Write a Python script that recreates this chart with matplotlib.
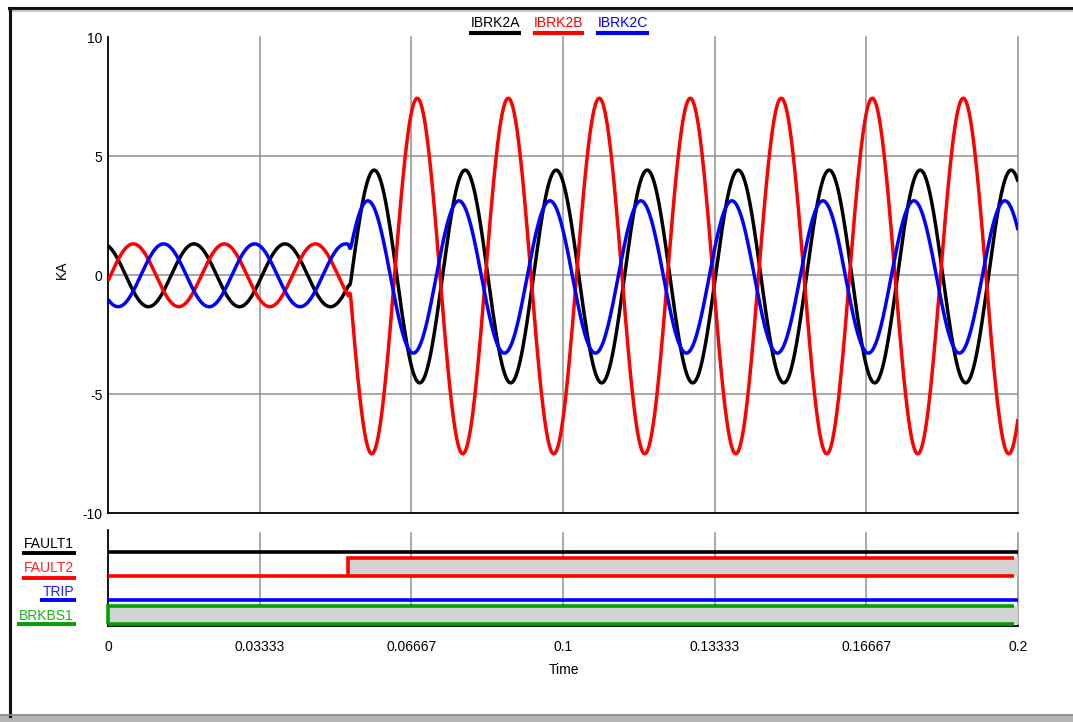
import numpy as np
import matplotlib
matplotlib.use('Agg')
import matplotlib.pyplot as plt
from matplotlib.lines import Line2D
from matplotlib.patches import Rectangle

# ---------------- data ----------------
freq_hz = 50.0
t_start, t_end = 0.0, 0.2
fault_time = 0.0528
blend_time = 0.0008

phase_names = ['IBRK2A', 'IBRK2B', 'IBRK2C']
phase_colors = ['#000000', '#ff0000', '#0000ff']
pre_amp = [1.32, 1.32, 1.32]            # kA, before fault
pre_angle_deg = [20.0, -100.0, 140.0]   # cos(wt + angle)
post_amp = [4.47, 7.47, 3.20]           # kA, after fault
post_angle_deg = [27.0, -143.5, 52.0]
post_offset = [-0.05, -0.03, -0.07]

y_ticks = [-10, -5, 0, 5, 10]
y_grid = [-5, 0, 5]
x_ticks = [0.0, 1 / 30, 2 / 30, 0.1, 4 / 30, 5 / 30, 0.2]
x_tick_labels = ['0', '0.03333', '0.06667', '0.1', '0.13333', '0.16667', '0.2']

digital_names = ['FAULT1', 'FAULT2', 'TRIP', 'BRKBS1']
digital_colors = ['#000000', '#ff0000', '#0000ff', '#00a000']
digital_label_colors = ['#000000', '#ff2020', '#2020ff', '#20b020']
digital_initial = [0, 0, 0, 1]
digital_switch = [None, fault_time, None, None]

# ---------------- figure ----------------
W, H = 1073, 722
fig = plt.figure(figsize=(W / 100, H / 100), dpi=100)
fig.patch.set_facecolor('white')
plt.rcParams['font.family'] = ['Liberation Sans', 'DejaVu Sans']


def fx(x):
    return x / W


def fy(y):
    return 1 - y / H


grid_color = '#8f8f8f'
grid_lw = 1.1

# ---- top axes ----
x0, x1 = 108, 1018
ax = fig.add_axes([fx(x0), fy(513.3), fx(x1) - fx(x0), fy(37.3) - fy(513.3)])
ax.set_xlim(t_start, t_end)
ax.set_ylim(-10, 10)
ax.set_xticks(x_ticks)
ax.set_xticklabels([])
ax.set_yticks(y_ticks)
ax.set_yticklabels([str(v) for v in y_ticks], fontsize=10)
ax.tick_params(length=0, pad=4)
for s in ['top', 'right']:
    ax.spines[s].set_visible(False)
for s in ['left', 'bottom']:
    ax.spines[s].set_color('black')
    ax.spines[s].set_linewidth(1.3)
for yv in y_grid:
    ax.axhline(yv, color=grid_color, lw=grid_lw, zorder=1)
for xv in x_ticks[1:]:
    ax.axvline(xv, color=grid_color, lw=grid_lw, zorder=1, clip_on=False)

t = np.linspace(t_start, t_end, 8001)
w = 2 * np.pi * freq_hz
s = np.clip((t - fault_time) / blend_time, 0, 1)
s = s * s * (3 - 2 * s)
for i in range(3):
    pre = pre_amp[i] * np.cos(w * t + np.deg2rad(pre_angle_deg[i]))
    post = post_amp[i] * np.cos(w * t + np.deg2rad(post_angle_deg[i])) + post_offset[i]
    y = pre * (1 - s) + post * s
    ax.plot(t, y, color=phase_colors[i], lw=2.5, zorder=3, solid_capstyle='butt')

# ---- bottom axes (digital) ----
axd = fig.add_axes([fx(x0), fy(626), fx(x1) - fx(x0), fy(530) - fy(626)])
axd.set_xlim(t_start, t_end)
axd.set_ylim(0, 4)
axd.set_yticks([])
axd.set_xticks(x_ticks)
axd.set_xticklabels(x_tick_labels, fontsize=10)
axd.tick_params(length=0, pad=10)
for sp in ['top', 'right']:
    axd.spines[sp].set_visible(False)
for sp in ['left', 'bottom']:
    axd.spines[sp].set_color('black')
    axd.spines[sp].set_linewidth(1.3)
for xv in x_ticks[1:]:
    axd.axvline(xv, ymin=0, ymax=0.97, color=grid_color, lw=grid_lw, zorder=1, clip_on=False)

lane_low, lane_high = 0.083, 0.833
t_short = t_end - 0.0009
dlw = 2.6
for i, name in enumerate(digital_names):
    k = 3 - i
    lo, hi = k + lane_low, k + lane_high
    c = digital_colors[i]
    st = digital_initial[i]
    sw = digital_switch[i]
    # build segments
    segs = []
    if sw is None:
        segs.append((t_start, t_end, st))
    else:
        segs.append((t_start, sw, st))
        segs.append((sw, t_end, 1 - st))
    final_state = segs[-1][2]
    bottom_end = t_short if final_state == 1 else t_end
    axd.plot([t_start, bottom_end], [lo, lo], color=c, lw=dlw, zorder=4,
             solid_capstyle='butt', clip_on=False)
    for a, b, v in segs:
        if v == 1:
            axd.add_patch(Rectangle((a, lo), b - a, hi - lo, facecolor='#d3d3d3',
                                    edgecolor='none', zorder=2))
            bb = t_short if b >= t_end else b
            axd.plot([a, a, bb], [lo, hi, hi], color=c, lw=dlw, zorder=4,
                     solid_capstyle='butt', solid_joinstyle='miter', clip_on=False)

# ---- axis titles ----
fig.text(fx(62), fy(270), 'KA', rotation=90, ha='center', va='center', fontsize=10)
fig.text(fx(564), fy(670), 'Time', ha='center', va='center', fontsize=10)

# ---- legend at top ----
leg_centers = [495, 558.5, 622.5]
legend_texts = []
for i in range(3):
    legend_texts.append(fig.text(fx(leg_centers[i]), fy(23), phase_names[i],
                                 color=phase_colors[i], ha='center', va='center',
                                 fontsize=10))
label_texts = []
label_y = [544.5, 568.5, 592, 615.5]
for i in range(4):
    label_texts.append(fig.text(fx(74), fy(label_y[i]), digital_names[i],
                                color=digital_label_colors[i], ha='right',
                                va='center', fontsize=10))

fig.canvas.draw()
r = fig.canvas.get_renderer()
for i, tx in enumerate(legend_texts):
    bb = tx.get_window_extent(r)
    fig.add_artist(Line2D([(bb.x0 - 1) / W, (bb.x1 + 1) / W], [fy(33), fy(33)],
                          color=phase_colors[i], lw=3.0, solid_capstyle='butt'))
under_y = [553, 577.5, 600, 624]
for i, tx in enumerate(label_texts):
    bb = tx.get_window_extent(r)
    fig.add_artist(Line2D([(bb.x0 - 2) / W, (bb.x1 + 2) / W], [fy(under_y[i]), fy(under_y[i])],
                          color=digital_colors[i], lw=2.8, solid_capstyle='butt'))

# ---- window frame ----
fig.add_artist(Line2D([fx(9), 1], [fy(8), fy(8)], color='#111111', lw=2.2))
fig.add_artist(Line2D([fx(9), 1], [fy(11), fy(11)], color='#c8c8c8', lw=1.5))
fig.add_artist(Line2D([fx(10), fx(10)], [fy(8), fy(716)], color='#111111', lw=2.2))
fig.add_artist(Rectangle((0, 0), 1, (H - 714) / H, transform=fig.transFigure,
                         facecolor='#b4b4b4', edgecolor='none'))
fig.add_artist(Line2D([0, 1], [fy(714.5), fy(714.5)], color='#8a8a8a', lw=1.2))

fig.savefig('out.png', dpi=100)
